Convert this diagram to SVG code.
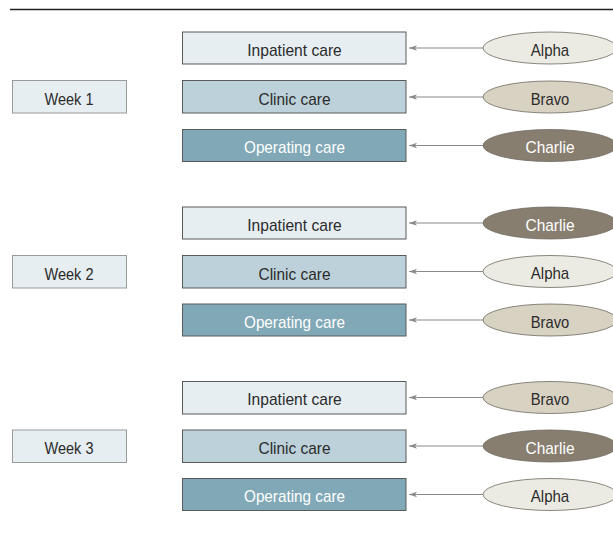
<svg xmlns="http://www.w3.org/2000/svg" width="613" height="533" viewBox="0 0 613 533">
<defs>
<style>
text{font-family:"Liberation Sans",Arial,sans-serif;font-size:17px;text-anchor:middle;fill:#2b2b2b}
.w{fill:#ffffff}
.box{stroke:#5a5a5a;stroke-width:1}
.inp{fill:#e7eef2}
.cli{fill:#bcd1d9}
.ope{fill:#80a8b6}
.week{fill:#e7eef2;stroke:#9a9a9a;stroke-width:1}
.ell{stroke:#6e6a60;stroke-width:0.8}
.al{fill:#ecebe3}
.br{fill:#d8d2c3}
.ch{fill:#877e70}
.con{stroke:#8a8a8a;stroke-width:1.2;fill:none;marker-end:url(#ah)}
</style>
<marker id="ah" viewBox="0 0 10 10" refX="10" refY="5" markerWidth="8" markerHeight="8" markerUnits="userSpaceOnUse" orient="auto">
<path d="M0,1.5 L10,5 L0,8.5 L2.5,5 Z" fill="#8a8a8a"/>
</marker>
</defs>
<rect width="613" height="533" fill="#ffffff"/>
<line x1="10" y1="9.5" x2="613" y2="9.5" stroke="#222" stroke-width="1.3"/>

<g id="connectors">
<line class="con" x1="483" y1="48" x2="409" y2="48"/>
<line class="con" x1="483" y1="97" x2="409" y2="97"/>
<line class="con" x1="483" y1="145.5" x2="409" y2="145.5"/>
<line class="con" x1="483" y1="223" x2="409" y2="223"/>
<line class="con" x1="483" y1="271.5" x2="409" y2="271.5"/>
<line class="con" x1="483" y1="320" x2="409" y2="320"/>
<line class="con" x1="483" y1="397.5" x2="409" y2="397.5"/>
<line class="con" x1="483" y1="446" x2="409" y2="446"/>
<line class="con" x1="483" y1="494.5" x2="409" y2="494.5"/>
</g>

<g id="week1"><rect class="week" x="12.5" y="80.5" width="114" height="32.5"/><text x="69" y="104.5" textLength="49" lengthAdjust="spacingAndGlyphs">Week 1</text></g>
<g id="week2"><rect class="week" x="12.5" y="255.5" width="114" height="32.5"/><text x="69" y="279.5" textLength="49" lengthAdjust="spacingAndGlyphs">Week 2</text></g>
<g id="week3"><rect class="week" x="12.5" y="430" width="114" height="32.5"/><text x="69" y="454" textLength="49" lengthAdjust="spacingAndGlyphs">Week 3</text></g>

<g id="w1-inpatient"><rect class="box inp" x="182.5" y="32" width="223.5" height="32"/><text x="294.5" y="55.5" textLength="94.5" lengthAdjust="spacingAndGlyphs">Inpatient care</text></g>
<g id="w1-clinic"><rect class="box cli" x="182.5" y="80.5" width="223.5" height="32.5"/><text x="294.5" y="104.5" textLength="72" lengthAdjust="spacingAndGlyphs">Clinic care</text></g>
<g id="w1-operating"><rect class="box ope" x="182.5" y="129.5" width="223.5" height="32"/><text class="w" x="294.5" y="153" textLength="101" lengthAdjust="spacingAndGlyphs">Operating care</text></g>

<g id="w2-inpatient"><rect class="box inp" x="182.5" y="207" width="223.5" height="32"/><text x="294.5" y="230.5" textLength="94.5" lengthAdjust="spacingAndGlyphs">Inpatient care</text></g>
<g id="w2-clinic"><rect class="box cli" x="182.5" y="255.5" width="223.5" height="32.5"/><text x="294.5" y="279.5" textLength="72" lengthAdjust="spacingAndGlyphs">Clinic care</text></g>
<g id="w2-operating"><rect class="box ope" x="182.5" y="304" width="223.5" height="32"/><text class="w" x="294.5" y="327.5" textLength="101" lengthAdjust="spacingAndGlyphs">Operating care</text></g>

<g id="w3-inpatient"><rect class="box inp" x="182.5" y="381.5" width="223.5" height="32.5"/><text x="294.5" y="405" textLength="94.5" lengthAdjust="spacingAndGlyphs">Inpatient care</text></g>
<g id="w3-clinic"><rect class="box cli" x="182.5" y="430" width="223.5" height="32.5"/><text x="294.5" y="454" textLength="72" lengthAdjust="spacingAndGlyphs">Clinic care</text></g>
<g id="w3-operating"><rect class="box ope" x="182.5" y="478.5" width="223.5" height="32"/><text class="w" x="294.5" y="502" textLength="101" lengthAdjust="spacingAndGlyphs">Operating care</text></g>

<g id="w1-alpha"><ellipse class="ell al" cx="550" cy="48" rx="67" ry="16"/><text x="550" y="55.5" textLength="38.5" lengthAdjust="spacingAndGlyphs">Alpha</text></g>
<g id="w1-bravo"><ellipse class="ell br" cx="550" cy="97" rx="67" ry="16"/><text x="550" y="104.5" textLength="38.5" lengthAdjust="spacingAndGlyphs">Bravo</text></g>
<g id="w1-charlie"><ellipse class="ell ch" cx="550" cy="145.5" rx="67" ry="16"/><text class="w" x="550" y="153" textLength="49" lengthAdjust="spacingAndGlyphs">Charlie</text></g>

<g id="w2-charlie"><ellipse class="ell ch" cx="550" cy="223" rx="67" ry="16"/><text class="w" x="550" y="230.5" textLength="49" lengthAdjust="spacingAndGlyphs">Charlie</text></g>
<g id="w2-alpha"><ellipse class="ell al" cx="550" cy="271.5" rx="67" ry="16"/><text x="550" y="279" textLength="38.5" lengthAdjust="spacingAndGlyphs">Alpha</text></g>
<g id="w2-bravo"><ellipse class="ell br" cx="550" cy="320" rx="67" ry="16"/><text x="550" y="327.5" textLength="38.5" lengthAdjust="spacingAndGlyphs">Bravo</text></g>

<g id="w3-bravo"><ellipse class="ell br" cx="550" cy="397.5" rx="67" ry="16"/><text x="550" y="405" textLength="38.5" lengthAdjust="spacingAndGlyphs">Bravo</text></g>
<g id="w3-charlie"><ellipse class="ell ch" cx="550" cy="446" rx="67" ry="16"/><text class="w" x="550" y="453.5" textLength="49" lengthAdjust="spacingAndGlyphs">Charlie</text></g>
<g id="w3-alpha"><ellipse class="ell al" cx="550" cy="494.5" rx="67" ry="16"/><text x="550" y="502" textLength="38.5" lengthAdjust="spacingAndGlyphs">Alpha</text></g>
</svg>
